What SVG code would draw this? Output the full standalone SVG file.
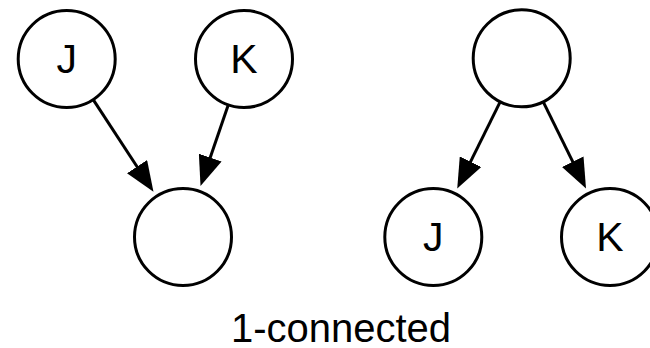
<svg xmlns="http://www.w3.org/2000/svg" width="650" height="348" viewBox="0 0 650 348">
  <style>
    .node circle { fill: #ffffff; stroke: #000000; stroke-width: 3; }
    .node text { font-family: "Liberation Sans", Arial, sans-serif; font-size: 41px; fill: #000000; text-anchor: middle; }
    .caption { font-family: "Liberation Sans", Arial, sans-serif; font-size: 40px; fill: #000000; text-anchor: middle; }
    .edge { stroke: #000000; stroke-width: 3; fill: none; marker-end: url(#arrow); }
  </style>
  <defs>
    <marker id="arrow" markerUnits="userSpaceOnUse" markerWidth="30" markerHeight="24" viewBox="0 0 30 24" refX="1" refY="12" orient="auto">
      <path d="M0,0 L30,12 L0,24 z" fill="#000000"/>
    </marker>
  </defs>
  <rect width="650" height="348" fill="#ffffff"/>
  <g id="connectors">
    <line class="edge" x1="93.2" y1="99.6" x2="137.6" y2="167.5"/>
    <line class="edge" x1="228.4" y1="104.4" x2="209.9" y2="158.5"/>
    <line class="edge" x1="500.4" y1="101.3" x2="470.1" y2="162.6"/>
    <line class="edge" x1="543" y1="101.3" x2="573.2" y2="162.6"/>
  </g>
  <g id="node-J-left" class="node">
    <circle cx="66.7" cy="59" r="48.5"/>
    <text x="66.7" y="73">J</text>
  </g>
  <g id="node-K-left" class="node">
    <circle cx="244" cy="59" r="48.5"/>
    <text x="244" y="73">K</text>
  </g>
  <g id="node-child-left" class="node">
    <circle cx="183" cy="237" r="48.5"/>
  </g>
  <g id="node-parent-right" class="node">
    <circle cx="521.7" cy="58.3" r="48.5"/>
  </g>
  <g id="node-J-right" class="node">
    <circle cx="433.3" cy="237" r="48.5"/>
    <text x="433.3" y="251">J</text>
  </g>
  <g id="node-K-right" class="node">
    <circle cx="610" cy="237" r="48.5"/>
    <text x="610" y="251">K</text>
  </g>
  <text class="caption" x="341" y="341.5">1-connected</text>
</svg>
